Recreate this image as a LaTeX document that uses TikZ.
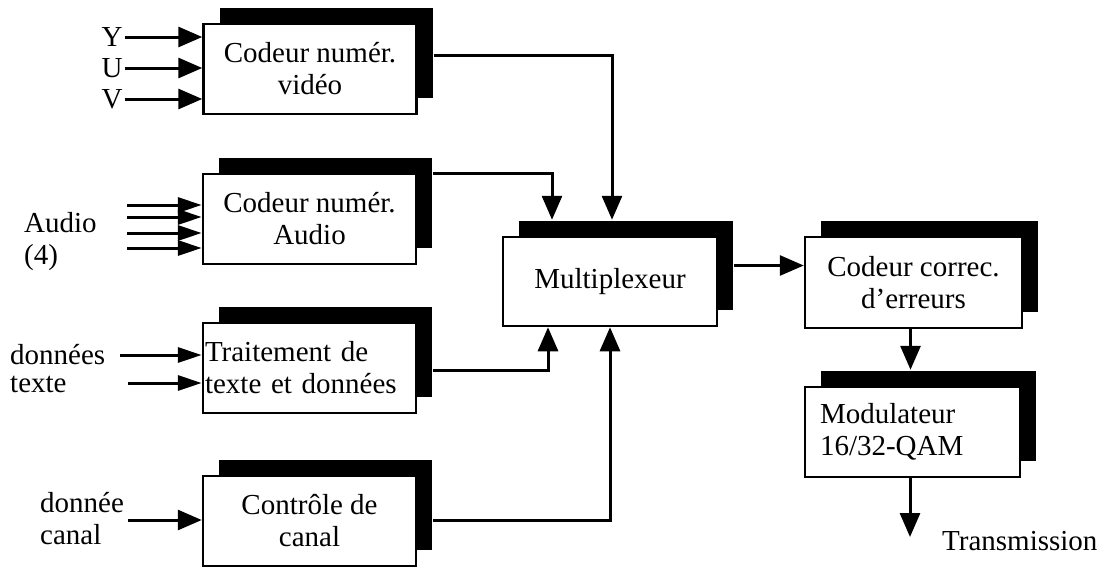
\documentclass[tikz,border=0pt]{standalone}
\usepackage{fontspec}
\setmainfont{Liberation Serif}
\usetikzlibrary{arrows.meta,shadows}
\begin{document}
\begin{tikzpicture}[x=1pt,y=-1pt,
  every node/.style={font=\fontsize{29}{32}\selectfont},
  blk/.style={draw=black,line width=2.5pt,fill=white,minimum width=213pt,minimum height=90pt,align=center,inner sep=2pt,
    general shadow={fill=black,shadow xshift=16pt,shadow yshift=16pt}},
  lbl/.style={inner sep=2pt},
  arr/.style={line width=3pt,-{Triangle[length=24pt,width=20pt]}},
  arrs/.style={line width=3pt,-{Triangle[length=24pt,width=15pt]}}]
\useasboundingbox (0,0) rectangle (1118,570);
% boxes
\node[blk] (vid) at (310,69) {Codeur numér.\\vidéo};
\node[blk] (aud) at (309.5,219) {Codeur numér.\\Audio};
\node[blk,align=left,text width=209pt] (txt) at (309.5,368) {Traitement de\\texte et données};
\node[blk] (ctl) at (309.5,521) {Contrôle de\\canal};
\node[blk,minimum width=214pt,minimum height=89pt] (mux) at (610,281.5) {Multiplexeur};
\node[blk,minimum width=217pt,minimum height=91pt] (cor) at (913.5,282.5) {Codeur correc.\\d'erreurs};
\node[blk,align=left,text width=185pt,inner xsep=15pt,minimum width=215pt] (mod) at (912.5,432) {Modulateur\\16/32-QAM};
% input labels
\node[lbl] (Y) at (112,37) {Y};
\node[lbl] (U) at (112,68) {U};
\node[lbl] (V) at (112,99) {V};
\draw[arr] (Y.east) -- (Y -| vid.west);
\draw[arr] (U.east) -- (U -| vid.west);
\draw[arr] (V.east) -- (V -| vid.west);
\node[lbl,anchor=west,align=left] (audio) at (22,242) {Audio\\(4)};
\coordinate (a1) at (127,205);
\coordinate (a2) at (127,217);
\coordinate (a3) at (127,233);
\coordinate (a4) at (127,248);
\foreach \c in {a1,a2,a3,a4}{\draw[arrs] (\c) -- (\c -| aud.west);}
\node[lbl,anchor=west] (don) at (8,355) {données};
\node[lbl,anchor=west] (tex) at (8,384) {texte};
\coordinate (d1) at (120,355);
\coordinate (d2) at (128,383);
\draw[arrs] (d1) -- (d1 -| txt.west);
\draw[arrs] (d2) -- (d2 -| txt.west);
\node[lbl,anchor=west,align=left] (dc) at (38,519) {donnée\\canal};
\coordinate (c1) at (128,520);
\draw[arr] (c1) -- (c1 -| ctl.west);
% to multiplexer
\draw[arr] ([xshift=16pt,yshift=14pt]vid.east) -| ([xshift=2pt,yshift=16pt]mux.north);
\draw[arr] ([xshift=16pt,yshift=46pt]aud.east) -| ([xshift=-58pt,yshift=16pt]mux.north);
\draw[arr] ([xshift=16pt,yshift=-2pt]txt.east) -| ([xshift=-62pt]mux.south);
\draw[arr] ([xshift=16pt,yshift=1pt]ctl.east) -| (mux.south);
% right chain
\draw[arr] ([xshift=16pt,yshift=16pt]mux.east) -- ([yshift=16pt]mux.east -| cor.west);
\draw[arr] ([xshift=-3pt]cor.south) -- ([xshift=-2pt,yshift=16pt]mod.north);
\coordinate (tx) at (910,537);
\draw[arr] (tx |- mod.south) -- (tx);
\node[lbl,anchor=west] (trans) at (940,541) {Transmission};
\end{tikzpicture}
\end{document}
